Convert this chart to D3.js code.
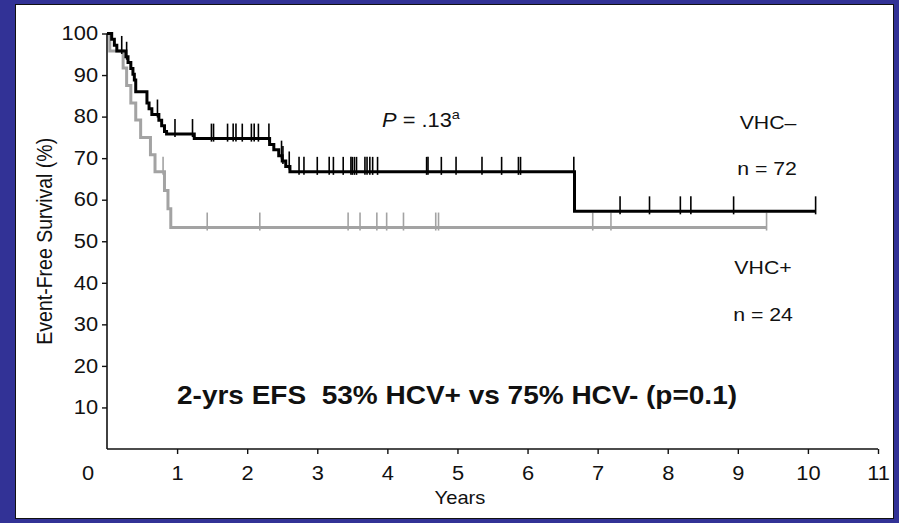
<!DOCTYPE html>
<html>
<head>
<meta charset="utf-8">
<script src="https://cdn.jsdelivr.net/npm/d3@7"></script>
<style>
  html, body { margin: 0; padding: 0; background: #323296; }
  svg { display: block; }
  text { font-family: "Liberation Sans", Arial, Helvetica, sans-serif; fill: #111; }
</style>
</head>
<body>
<svg id="chart" width="899" height="523"></svg>
<script>
// ---------- data ----------
const xTickValues = [1, 2, 3, 4, 5, 6, 7, 8, 9, 10, 11];
const yTickValues = [10, 20, 30, 40, 50, 60, 70, 80, 90, 100];

// VHC- (n = 72) : Kaplan-Meier event times (years) and survival (%) after each event
const negEventTimes = [0.067, 0.105, 0.14, 0.27, 0.30, 0.34, 0.37, 0.39, 0.41, 0.57, 0.60, 0.64,
                       0.74, 0.78, 0.82, 0.85, 1.245, 2.32, 2.38, 2.45, 2.50, 2.55, 2.61, 6.67];
const negSurvival   = [98.6, 97.2, 95.8, 94.4, 93.0, 91.6, 90.2, 88.8, 86.0, 83.3, 81.9, 80.5,
                       79.1, 77.8, 76.4, 75.8, 74.7, 73.3, 72.0, 70.6, 69.3, 68.0, 66.7, 57.2];
const negEnd = 10.11;
const negCensor = [0.21, 0.28, 0.72, 0.97, 1.22, 1.49, 1.52, 1.72, 1.80, 1.84, 1.93, 2.06, 2.10, 2.16,
                   2.31, 2.49, 2.51, 2.60, 2.74, 2.81, 3.0, 3.17, 3.23, 3.37, 3.48, 3.50, 3.53, 3.56,
                   3.68, 3.71, 3.75, 3.79, 3.86, 4.56, 4.58, 4.77, 4.98, 5.35, 5.63, 5.87, 5.90, 6.66,
                   7.32, 7.74, 8.18, 8.33, 8.94, 10.11];

// VHC+ (n = 24)
const posEventTimes = [0.04, 0.23, 0.28, 0.34, 0.41, 0.48, 0.62, 0.685, 0.82, 0.87, 0.91];
const posSurvival   = [95.8, 91.7, 87.5, 83.3, 79.2, 75.0, 70.8, 66.7, 62.2, 57.8, 53.3];
const posEnd = 9.41;
const posCensor = [0.80, 1.43, 2.18, 3.44, 3.61, 3.85, 3.99, 4.23, 4.69, 4.73, 6.93, 7.19, 9.41];

// ---------- layout ----------
const svg = d3.select("#chart");
const W = 899, H = 523;
const SX = 1.12; // horizontal stretch of the source lettering

svg.append("rect").attr("x", 0).attr("y", 0).attr("width", W).attr("height", H).attr("fill", "#323296");
svg.append("rect").attr("x", 15.5).attr("y", 4.5).attr("width", 878).attr("height", 514)
   .attr("fill", "#ffffff").attr("stroke", "#111").attr("stroke-width", 1);

const x = d3.scaleLinear().domain([0, 11]).range([107, 878]);
const y = d3.scaleLinear().domain([0, 100]).range([449, 33.5]);

// axes
const yAxis = svg.append("g").attr("transform", `translate(${x(0)},0)`)
  .call(d3.axisLeft(y).tickValues(yTickValues).tickSize(5).tickPadding(3).tickSizeOuter(0));
const xAxis = svg.append("g").attr("transform", `translate(0,${y(0)})`)
  .call(d3.axisBottom(x).tickValues(xTickValues).tickSize(5).tickPadding(12).tickSizeOuter(0));
[yAxis, xAxis].forEach(g => {
  g.select(".domain").attr("stroke", "#111").attr("stroke-width", 1.6);
  g.selectAll(".tick line").attr("stroke", "#111").attr("stroke-width", 1.4);
  g.selectAll(".tick text").attr("font-size", 19.5).attr("fill", "#111")
    .attr("font-family", '"Liberation Sans", Arial, Helvetica, sans-serif')
    .attr("transform", `scale(${SX},1)`);
});
yAxis.select(".domain").attr("d", `M0,${y(100)}V${y(0)}`);
xAxis.select(".domain").attr("d", `M${x(0)},0H${x(11)}`);

function label(cx, cy, txt, size, anchor) {
  return svg.append("text")
    .attr("transform", `translate(${cx},${cy}) scale(${SX},1)`)
    .attr("text-anchor", anchor || "middle").attr("font-size", size).text(txt);
}

// origin "0" label
label(88, y(0) + 31, "0", 19.5);

// axis titles
label(460, 504, "Years", 18);
svg.append("text")
   .attr("transform", `translate(52,${(y(0) + y(100)) / 2}) scale(${SX},1) rotate(-90)`)
   .attr("text-anchor", "middle").attr("font-size", 19.5).text("Event-Free Survival (%)");

// ---------- curves ----------
function stepPoints(times, surv, end) {
  const pts = [[0, 100]];
  times.forEach((t, i) => pts.push([t, surv[i]]));
  pts.push([end, surv[surv.length - 1]]);
  return pts;
}
function survAt(times, surv, t) {
  const i = d3.bisectRight(times, t);
  return i === 0 ? 100 : surv[i - 1];
}
const line = d3.line().x(d => x(d[0])).y(d => y(d[1])).curve(d3.curveStepAfter);

function drawSeries(times, surv, end, censor, color, width) {
  const g = svg.append("g");
  g.append("path").datum(stepPoints(times, surv, end))
    .attr("d", line).attr("fill", "none").attr("stroke", color)
    .attr("stroke-width", width).attr("stroke-linejoin", "miter");
  g.selectAll("line.c").data(censor).join("line")
    .attr("x1", d => x(d)).attr("x2", d => x(d))
    .attr("y1", d => y(survAt(times, surv, d)) - 15)
    .attr("y2", d => y(survAt(times, surv, d)) + 3)
    .attr("stroke", color).attr("stroke-width", 1.6);
}
drawSeries(posEventTimes, posSurvival, posEnd, posCensor, "#a3a3a3", 3);
drawSeries(negEventTimes, negSurvival, negEnd, negCensor, "#000000", 3);

// ---------- annotations ----------
const pText = svg.append("text").attr("transform", `translate(382,127) scale(${SX},1)`).attr("font-size", 19.5);
pText.append("tspan").attr("font-style", "italic").text("P");
pText.append("tspan").text(" = .13");
pText.append("tspan").attr("font-size", 13).attr("dy", -8).text("a");

label(768, 129, "VHC\u2013", 19);
label(767, 175, "n = 72", 19);
label(763, 274, "VHC+", 19);
label(763, 321, "n = 24", 19);

label(457, 404, "2-yrs EFS\u00a0\u00a053% HCV+ vs 75% HCV- (p=0.1)", 25)
   .attr("font-weight", "bold").attr("fill", "#000");
</script>
</body>
</html>
